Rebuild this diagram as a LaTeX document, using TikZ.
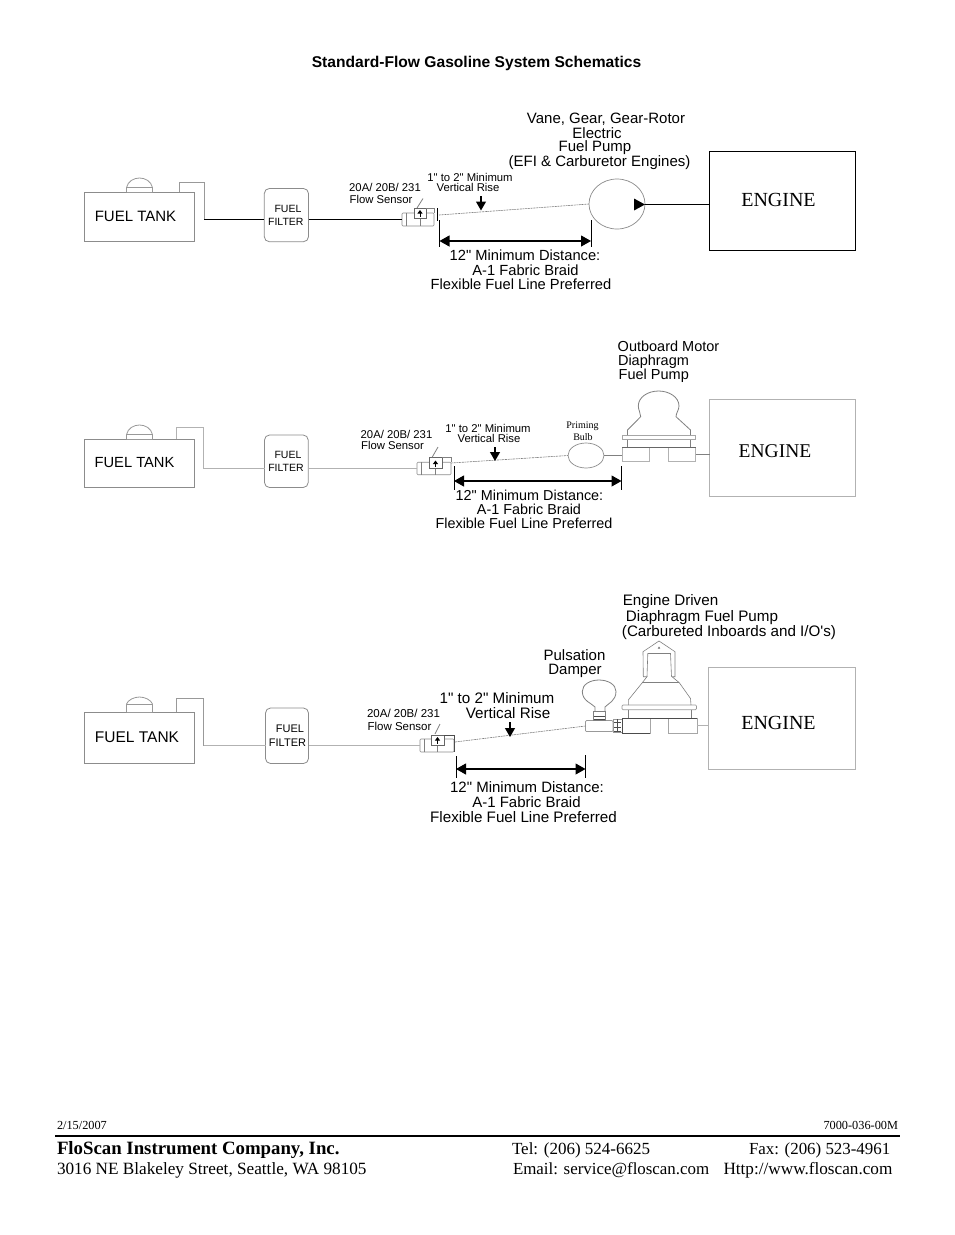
\documentclass[tikz,border=0pt]{standalone}
\usepackage{fontspec}
\setmainfont{Liberation Serif}
\newfontfamily\arialf{Liberation Sans}
\usetikzlibrary{shapes.geometric,calc,arrows.meta}
\tikzset{
  every node/.style={outer sep=0pt},
  sa/.style={font=\arialf\fontsize{#1}{#1}\selectfont,anchor=base,inner sep=0pt,text=black},
  se/.style={font=\fontsize{#1}{#1}\selectfont,anchor=base,inner sep=0pt,text=black},
  sel/.style={font=\fontsize{#1}{#1}\selectfont,anchor=base west,inner sep=0pt,text=black},
  dk/.style={draw=black,line width=0.9pt},
  lt/.style={draw=black!30,line width=0.8pt},
  md/.style={draw=black!50,line width=0.8pt},
  rise/.style={draw=black!50,line width=0.6pt,dash pattern=on 2pt off 0.7pt},
  boxn/.style={rectangle,inner sep=0pt,anchor=north west,minimum width=#1},
  hh/.style={minimum height=#1},
  tankbox/.style={boxn=110.4pt,draw=black!45,line width=0.7pt},
  filterbox/.style={boxn=#1,draw=black!45,line width=0.8pt,rounded corners=5pt},
  bodybox/.style={boxn=#1,draw=black!45,line width=0.6pt,rounded corners=1pt},
  innerbox/.style={boxn=#1,draw=black!60,fill=white,line width=0.6pt},
  engbox/.style={boxn=#1,line width=0.8pt},
  tip/.style={-{Triangle[length=9pt,width=10pt]},draw=black,line width=1.1pt},
  flow/.style={-{Triangle[length=3.5pt,width=5pt]},draw=black,line width=1pt},
  dim/.style={{Triangle[length=10pt,width=11pt]}-{Triangle[length=10pt,width=11pt]},draw=black,line width=1.1pt},
  tick/.style={draw=black,line width=#1},
}
\begin{document}
\begin{tikzpicture}[x=1pt,y=-1pt]
\useasboundingbox (0,0) rectangle (954,1235);
\fill[white] (0,0) rectangle (954,1235);

\node[sa={15.6},font=\arialf\bfseries\fontsize{15.6}{15.6}\selectfont] (title) at (476.5,67.5) {Standard-Flow Gasoline System Schematics};

%%% ROW 1
\node[sa={15}] (r1a) at (606,123) {Vane, Gear, Gear-Rotor};
\node[sa={15}] (r1b) at (597,138) {Electric};
\node[sa={15}] (r1c) at (595,151) {Fuel Pump};
\node[sa={15}] (r1d) at (599.5,166) {(EFI \& Carburetor Engines)};
\node[sa={11.3}] (r1e) at (470,181) {1" to 2" Minimum};
\node[sa={11.3}] (r1f) at (468,191) {Vertical Rise};
\node[sa={11.3}] (r1g) at (385,191) {20A/ 20B/ 231};
\node[sa={11.3}] (r1h) at (381,203) {Flow Sensor};

\node[tankbox,hh=49.7pt] (tank1) at (84.3,192) {};
\node[sa={15}] (tank1t) at (135.5,221) {FUEL TANK};
\draw[md,draw=black!40,fill=white] (126.5,192) -- (126.5,187.5) .. controls (128,181) and (134,178) .. (139.5,178) .. controls (145,178) and (151,181) .. (152.5,187.5) -- (152.5,192);
\draw[md,draw=black!40] (126.5,187.5) -- (152.5,187.5);
\node[filterbox=44.2pt,hh=53.2pt] (filter1) at (264.3,188.5) {};
\node[sa={10.5}] (filter1a) at (288,212.5) {FUEL};
\node[sa={10.5}] (filter1b) at (285.8,225.5) {FILTER};
\node[bodybox=32pt,hh=13pt] (sensor1) at (402,213) {};
\node[innerbox=12pt,hh=10pt] (inner1) at (414,208.5) {};
\draw[flow] (420,216.5) -- (420,210);
\draw[md,line width=0.6pt] (inner1.north east) -- (434.5,208.5) -- (434.5,213);
\draw[md,line width=0.5pt] (406,213) -- (406,226) (420,218.5) -- (420,226);
\draw[md] (417,208) -- (423,198.5);
\coordinate (bar1t) at (437.5,208);
\coordinate (bar1b) at (437.5,220.5);
\draw[tick=1pt] (bar1t) -- (bar1b);
\node[draw=black!45,line width=0.7pt,ellipse,minimum width=56pt,minimum height=50pt,inner sep=0pt] (pump1) at (617,204) {};
\coordinate (rise1) at (439,215);
\draw[rise] (rise1) -- (pump1.west);
\fill (634,198.5) -- (645,204.5) -- (634,210.5) -- cycle;
\node[engbox=146pt,hh=98.5pt,draw=black] (engine1) at (709.5,151.5) {};
\node[se={20}] (engine1t) at (778.5,206.5) {ENGINE};
\coordinate (vent1a) at (179,192);
\coordinate (vent1b) at (204,182.7);
\coordinate (vent1c) at (204,219.5);
\draw[md,draw=black!40] (vent1a) |- (vent1b) -- (vent1c);
\draw[dk] (vent1c) -- (filter1.west |- sensor1.west);
\draw[dk] (filter1.east |- sensor1.west) -- (sensor1.west);
\draw[dk] (pump1.east) -- (pump1.east -| engine1.west);
\coordinate (d1l) at (439.5,241);
\coordinate (d1r) at (591,241);
\draw[dim] (d1l) -- (d1r);
\draw[tick=1pt] (439.5,220) -- (439.5,246.5);
\draw[tick=1pt] (591,220) -- (591,246.5);
\coordinate (a1t) at (481,196);
\coordinate (a1b) at (481,210.5);
\draw[tip] (a1t) -- (a1b);
\node[sa={14.7}] (r1i) at (525,260) {12" Minimum Distance:};
\node[sa={14.7}] (r1j) at (525.5,275) {A-1 Fabric Braid};
\node[sa={14.7}] (r1k) at (521,289) {Flexible Fuel Line Preferred};

%%% ROW 2
\node[sa={14.5}] (r2a) at (668.5,351) {Outboard Motor};
\node[sa={14.5}] (r2b) at (653.5,365) {Diaphragm};
\node[sa={14.5}] (r2c) at (653.8,379) {Fuel Pump};
\node[sa={11.3}] (r2d) at (488,432) {1" to 2" Minimum};
\node[sa={11.3}] (r2e) at (489,442) {Vertical Rise};
\node[sa={11.3}] (r2f) at (396.5,438) {20A/ 20B/ 231};
\node[sa={11.3}] (r2g) at (392.5,449) {Flow Sensor};
\node[se={10}] (r2h) at (582.5,428) {Priming};
\node[se={10}] (r2i) at (583,440) {Bulb};

\node[tankbox,hh=48.7pt] (tank2) at (84.3,439) {};
\node[sa={14.7}] (tank2t) at (134.5,467) {FUEL TANK};
\draw[md,draw=black!40,fill=white] (126.5,439) -- (126.5,434.5) .. controls (128,428) and (134,425) .. (139.5,425) .. controls (145,425) and (151,428) .. (152.5,434.5) -- (152.5,439);
\draw[md,draw=black!40] (126.5,434.5) -- (152.5,434.5);
\node[filterbox=43.7pt,hh=52.5pt] (filter2) at (264.5,435) {};
\node[sa={10.5}] (filter2a) at (288,458.5) {FUEL};
\node[sa={10.5}] (filter2b) at (286,471) {FILTER};
\node[bodybox=34pt,hh=12.5pt] (sensor2) at (417,462.2) {};
\node[innerbox=13pt,hh=11pt] (inner2) at (429,457.7) {};
\draw[flow] (435.5,467) -- (435.5,460.5);
\draw[md,line width=0.6pt] (inner2.north east) -- (451,457.7) -- (451,462.2);
\draw[md,line width=0.5pt] (421,462.2) -- (421,474.7) (435.5,468.7) -- (435.5,474.7);
\draw[md] (432,457.5) -- (438,447);
\coordinate (vent2a) at (176.5,439);
\coordinate (vent2b) at (203.5,427.5);
\coordinate (vent2c) at (203.5,468.45);
\draw[lt] (vent2a) |- (vent2b) -- (vent2c) -- (filter2.west |- sensor2.west);
\draw[lt] (filter2.east |- sensor2.west) -- (sensor2.west);
\node[draw=black!45,line width=0.7pt,ellipse,minimum width=36pt,minimum height=25pt,inner sep=0pt] (bulb2) at (586,455.5) {};
\coordinate (rise2) at (451,463);
\draw[rise] (rise2) -- (bulb2.west);
\node[boxn=27pt,hh=14.5pt,draw=black!30,line width=0.7pt] (blockL2) at (622,447) {};
\node[boxn=27.5pt,hh=14.5pt,draw=black!30,line width=0.7pt] (blockR2) at (668,447) {};
\draw[draw=black!60,line width=0.8pt] (blockL2.north west) -- (blockR2.north east);
\node[boxn=73pt,hh=4.7pt,draw=black!35,line width=0.8pt] (band2) at (622.5,435) {};
\draw[md] (627.5,439.7) -- (627.5,447) (690.5,439.7) -- (690.5,447);
\draw[md] (627.5,435) -- (627.5,430) -- (640.7,416.7) .. controls (640.7,413) and (638.3,410) .. (638.3,406) .. controls (638.3,397) and (648,391) .. (658.6,391) .. controls (669,391) and (679,397) .. (679,406) .. controls (679,410) and (676,413) .. (676,416.7) -- (690.5,430) -- (690.5,435);
\node[engbox=145.5pt,hh=96.5pt,draw=black!30] (engine2) at (709.5,399.5) {};
\node[se={19.5}] (engine2t) at (775,457) {ENGINE};
\draw[md] (bulb2.east) -- (bulb2.east -| blockL2.west);
\draw[md] (blockR2.east) -- (blockR2.east -| engine2.west);
\coordinate (d2l) at (454,481);
\coordinate (d2r) at (621.5,481);
\draw[dim] (d2l) -- (d2r);
\draw[tick=0.6pt] (454,466) -- (454,490);
\draw[tick=0.6pt] (621.5,466) -- (621.5,490);
\coordinate (a2t) at (495,447);
\coordinate (a2b) at (495,461);
\draw[tip] (a2t) -- (a2b);
\node[sa={14.4}] (r2j) at (529.5,500) {12" Minimum Distance:};
\node[sa={14.4}] (r2k) at (529,514) {A-1 Fabric Braid};
\node[sa={14.4}] (r2l) at (524,528) {Flexible Fuel Line Preferred};

%%% ROW 3
\node[sa={15.2}] (r3a) at (670.5,605) {Engine Driven};
\node[sa={15.2}] (r3b) at (702,621) {Diaphragm Fuel Pump};
\node[sa={15.2}] (r3c) at (729,636) {(Carbureted Inboards and I/O's)};
\node[sa={15}] (r3d) at (574.5,660) {Pulsation};
\node[sa={15}] (r3e) at (575,674) {Damper};
\node[sa={15.2}] (r3f) at (497,703) {1" to 2" Minimum};
\node[sa={15.2}] (r3g) at (508,718) {Vertical Rise};
\node[sa={11.5}] (r3h) at (403.5,717) {20A/ 20B/ 231};
\node[sa={11.5}] (r3i) at (399.5,730) {Flow Sensor};

\node[tankbox,hh=51pt] (tank3) at (84.3,712) {};
\node[sa={15.5}] (tank3t) at (137,742) {FUEL TANK};
\draw[md,draw=black!40,fill=white] (126.5,712) -- (126.5,704) .. controls (128,700) and (134,697) .. (139.5,697) .. controls (145,697) and (151,700) .. (152.5,704) -- (152.5,712);
\draw[md,draw=black!40] (126.5,704) -- (152.5,704);
\node[filterbox=43pt,hh=55.5pt] (filter3) at (265.5,708) {};
\node[sa={11}] (filter3a) at (290,732.5) {FUEL};
\node[sa={11}] (filter3b) at (287.5,746.5) {FILTER};
\node[bodybox=34pt,hh=13pt] (sensor3) at (420,739) {};
\node[innerbox=13pt,hh=10.5pt] (inner3) at (431,735) {};
\draw[flow] (437.5,743.5) -- (437.5,737);
\draw[draw=black!70,line width=0.7pt] (inner3.north east) -- (454,735);
\draw[md,line width=0.5pt] (424,739) -- (424,752) (437.5,745.5) -- (437.5,752);
\draw[draw=black!70,line width=0.8pt] (454,735) -- (454,752);
\draw[md] (435,734) -- (440,724);
\coordinate (vent3a) at (176.7,712);
\coordinate (vent3b) at (203.5,698.5);
\coordinate (vent3c) at (203.5,745.5);
\draw[md,draw=black!40] (vent3a) |- (vent3b) -- (vent3c);
\draw[lt] (vent3c) -- (filter3.west |- sensor3.west);
\draw[lt] (filter3.east |- sensor3.west) -- (sensor3.west);
% damper
\node[boxn=27.5pt,hh=11pt,draw=black!40,line width=0.7pt,rounded corners=1pt] (conn3) at (585.5,720.5) {};
\coordinate (rise3) at (455,742);
\draw[rise] (rise3) -- (conn3.west);
\node[boxn=11.5pt,hh=9pt,draw=black!50,line width=0.7pt] (collar3) at (593.5,711.5) {};
\draw[draw=black!70,line width=0.8pt] (594,716) -- (605,716) (594,719) -- (605,719);
\draw[md] (595,711.5) -- (595,707) .. controls (592,703.5) and (582.3,701) .. (582.3,691.5) .. controls (582.3,684.5) and (590,680) .. (599,680) .. controls (608,680) and (616,684.5) .. (616,691.5) .. controls (616,701) and (608,703.5) .. (605,707) -- (605,711.5);
\node[boxn=9pt,hh=13pt,draw=black!40,line width=0.6pt] (coupling3) at (613,719.5) {};
\draw[draw=black!70,line width=0.8pt] (614,722) -- (621,722) (614,727) -- (621,727) (614,731) -- (621,731) (617,719) -- (617,732);
% pump
\node[boxn=27.5pt,hh=15.5pt,draw=black!35,line width=0.7pt] (blockL3) at (622.5,718) {};
\node[boxn=28.5pt,hh=15.5pt,draw=black!35,line width=0.7pt] (blockR3) at (668.5,718) {};
\draw[draw=black!70,line width=0.8pt] (blockL3.north west) -- (blockR3.north east);
\draw[draw=black!70,line width=0.8pt] (blockL3.north west) -- (blockL3.south west) -- (blockL3.south east);
\node[boxn=74.5pt,hh=4.7pt,draw=black!40,line width=0.7pt,rounded corners=1pt] (band3) at (622,705) {};
\draw[md,line width=0.6pt] (628,709.7) -- (628,718) (691,709.7) -- (691,718);
\draw[md,line width=0.6pt] (628.3,705) -- (628.3,700) -- (642.3,682.7) -- (647,676.7) -- (643.3,676.7) -- (643,651.7) -- (659,641) -- (675,651.7) -- (675,676.7) -- (672,676.7) -- (679.3,682.7) -- (690.5,698.5) -- (691,705);
\draw[md,line width=0.6pt] (642.3,682.7) -- (679.3,682.7);
\draw[md,line width=0.6pt] (647,676.7) -- (647.8,653.5) -- (670.5,653.5) -- (671.5,676.7);
\fill[black!60] (657.8,648.5) -- (660.2,648.5) -- (659,646.5) -- cycle;
\node[engbox=146.5pt,hh=102.5pt,draw=black!30] (engine3) at (708.5,667) {};
\node[se={20}] (engine3t) at (778.5,729.5) {ENGINE};
\draw[lt] (blockR3.east) -- (blockR3.east -| engine3.west);
\coordinate (d3l) at (456,769);
\coordinate (d3r) at (585.5,769);
\draw[dim] (d3l) -- (d3r);
\draw[tick=0.8pt] (456,756) -- (456,778);
\draw[tick=0.8pt] (585.5,755) -- (585.5,778);
\coordinate (a3t) at (510,722);
\coordinate (a3b) at (510,737);
\draw[tip] (a3t) -- (a3b);
\node[sa={15}] (r3j) at (527,792) {12" Minimum Distance:};
\node[sa={15}] (r3k) at (526.5,807) {A-1 Fabric Braid};
\node[sa={15.2}] (r3l) at (523.5,822) {Flexible Fuel Line Preferred};

%%% FOOTER
\node[sel={12.3}] (date) at (57,1129) {2/15/2007};
\node[se={12.3},anchor=base east] (docno) at (898,1129) {7000-036-00M};
\coordinate (ruleL) at (55,1135.7);
\coordinate (ruleR) at (900,1135.7);
\draw[draw=black,line width=1.7pt] (ruleL) -- (ruleR);
\node[sel={18.8},font=\bfseries\fontsize{18.8}{18.8}\selectfont] (co) at (57,1154) {FloScan Instrument Company, Inc.};
\node[sel={17.2}] (addr) at (57,1174) {3016 NE Blakeley Street, Seattle, WA 98105};
\node[sel={17}] (tel) at (512,1154) {Tel: (206) 524-6625};
\node[sel={16.9}] (fax) at (749,1154) {Fax: (206) 523-4961};
\node[sel={16.9}] (email) at (513,1174) {Email: service@floscan.com};
\node[sel={17.2}] (web) at (723.5,1174) {Http://www.floscan.com};
\end{tikzpicture}
\end{document}
